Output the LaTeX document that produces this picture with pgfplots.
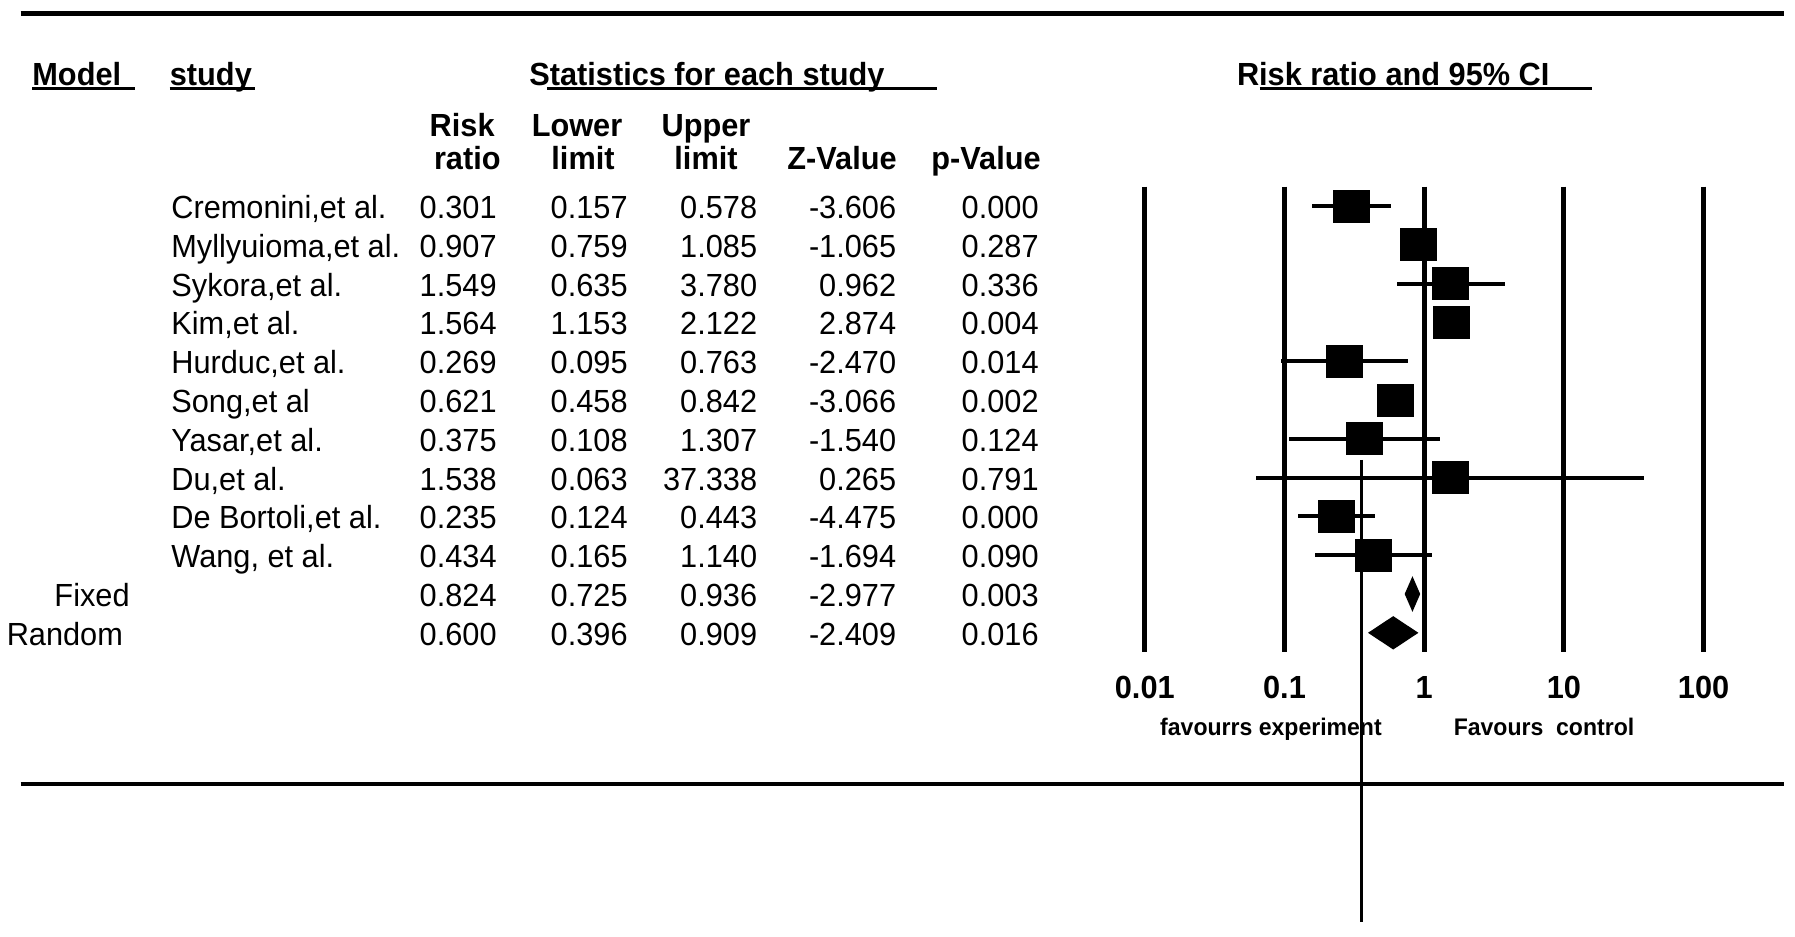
\documentclass[border=0pt]{standalone}
\usepackage{fontspec}
\setmainfont{Liberation Sans}[FakeStretch=0.96]
\usepackage{pgfplots}
\usepackage{pgfplotstable}
\pgfplotsset{compat=1.18}

% k = row (0 = top), rr = risk ratio, lo/hi = 95% CI
\pgfplotstableread[col sep=semicolon,row sep=\\]{
k;name;rr;lo;hi;z;p\\
0;Cremonini,et al.;0.301;0.157;0.578;-3.606;0.000\\
1;Myllyuioma,et al.;0.907;0.759;1.085;-1.065;0.287\\
2;Sykora,et al.;1.549;0.635;3.780;0.962;0.336\\
3;Kim,et al.;1.564;1.153;2.122;2.874;0.004\\
4;Hurduc,et al.;0.269;0.095;0.763;-2.470;0.014\\
5;Song,et al;0.621;0.458;0.842;-3.066;0.002\\
6;Yasar,et al.;0.375;0.108;1.307;-1.540;0.124\\
7;Du,et al.;1.538;0.063;37.338;0.265;0.791\\
8;De Bortoli,et al.;0.235;0.124;0.443;-4.475;0.000\\
9;Wang, et al.;0.434;0.165;1.140;-1.694;0.090\\
10;;0.824;0.725;0.936;-2.977;0.003\\
11;;0.600;0.396;0.909;-2.409;0.016\\
}\forest

\newcommand{\tf}{\fontsize{16}{19}\selectfont}
\newcommand{\hf}{\fontsize{16}{19}\bfseries}

\begin{document}
\begin{tikzpicture}[x=0.5pt,y=-0.5pt,every node/.style={inner sep=0pt,font=\tf}]
\useasboundingbox (0,0) rectangle (1795,937);

% rules
\draw[line width=2.25pt] (20.6,13.7) -- (1784,13.7);
\draw[line width=2.25pt] (20.6,784) -- (1784,784);

\begin{axis}[
  at={(572.4pt,-93.35pt)}, anchor=north west,
  scale only axis, width=279.4pt, height=232.5pt,
  xmode=log, xmin=0.01, xmax=100,
  ymin=-0.497, ymax=11.487, y dir=reverse,
  xtick={0.01,0.1,1,10,100},
  xticklabels={0.01,0.1,1,10,100},
  xminorticks=false, ytick=\empty,
  xmajorgrids, grid style={black,line width=2.5pt},
  axis line style={draw=none}, major tick length=0pt,
  xticklabel style={font=\hf, anchor=base, yshift=-23.6pt},
  clip=false,
]
% confidence intervals
\addplot[draw=none, mark=none, skip coords between index={10}{12},
  error bars/.cd, x dir=both, x explicit, error mark=none,
  error bar style={draw=black,solid,line width=2pt}]
  table[x=rr, y=k,
    x error minus expr=\thisrow{rr}-\thisrow{lo},
    x error plus expr=\thisrow{hi}-\thisrow{rr}] {\forest};
% study estimates
\addplot[only marks, mark=square*, mark size=9pt,
  mark options={fill=black,draw=none,yscale=0.889},
  skip coords between index={10}{12}]
  table[x=rr, y=k] {\forest};
% pooled estimates
\addplot[fill=black, draw=none] coordinates {(0.725,10) (0.824,9.541) (0.936,10) (0.824,10.459)};
\addplot[fill=black, draw=none] coordinates {(0.396,11) (0.600,10.57) (0.909,11) (0.600,11.43)};
% long reference line
\addplot[black, line width=1.25pt] coordinates {(0.357,6.546) (0.357,18.454)};
\end{axis}

% headers
\node[anchor=base west,font=\hf] at (32,85) {Model};
\node[anchor=base west,font=\hf] at (169.5,85) {study};
\node[anchor=base west,font=\hf] at (529,85) {Statistics for each study};
\node[anchor=base west,font=\hf] at (1236.6,85) {Risk ratio and 95\% CI};
\draw[line width=1.25pt] (32,88.5) -- (135,88.5);
\draw[line width=1.25pt] (169.5,88.5) -- (255,88.5);
\draw[line width=1.25pt] (547,88.5) -- (937,88.5);
\draw[line width=1.25pt] (1259.5,88.5) -- (1591.5,88.5);

\node[anchor=base east,font=\hf] at (495,136) {Risk};
\node[anchor=base east,font=\hf] at (501,169.5) {ratio};
\node[anchor=base,font=\hf] at (577,136) {Lower};
\node[anchor=base,font=\hf] at (583,169.5) {limit};
\node[anchor=base,font=\hf] at (706,136) {Upper};
\node[anchor=base,font=\hf] at (706,169.5) {limit};
\node[anchor=base,font=\hf] at (842,169.5) {Z-Value};
\node[anchor=base,font=\hf] at (986,169.5) {p-Value};

% table body
\foreach \i in {0,...,11}{
  \pgfmathsetmacro{\yb}{218.5+38.8*\i}
  \pgfplotstablegetelem{\i}{name}\of\forest
  \node[anchor=base west] at (171,\yb) {\pgfplotsretval};
  \pgfplotstablegetelem{\i}{rr}\of\forest
  \node[anchor=base east] at (497,\yb) {\pgfplotsretval};
  \pgfplotstablegetelem{\i}{lo}\of\forest
  \node[anchor=base east] at (628,\yb) {\pgfplotsretval};
  \pgfplotstablegetelem{\i}{hi}\of\forest
  \node[anchor=base east] at (757.5,\yb) {\pgfplotsretval};
  \pgfplotstablegetelem{\i}{z}\of\forest
  \node[anchor=base east] at (896.5,\yb) {\pgfplotsretval};
  \pgfplotstablegetelem{\i}{p}\of\forest
  \node[anchor=base east] at (1039,\yb) {\pgfplotsretval};
}
\node[anchor=base east] at (130,606.5) {Fixed};
\node[anchor=base east] at (123.3,645.3) {Random};

% favours labels
\node[anchor=base,font=\fontsize{12}{14}\bfseries] at (1271,735) {favourrs experiment};
\node[anchor=base,font=\fontsize{12}{14}\bfseries] at (1544,735) {Favours\ \ control};
\end{tikzpicture}
\end{document}
